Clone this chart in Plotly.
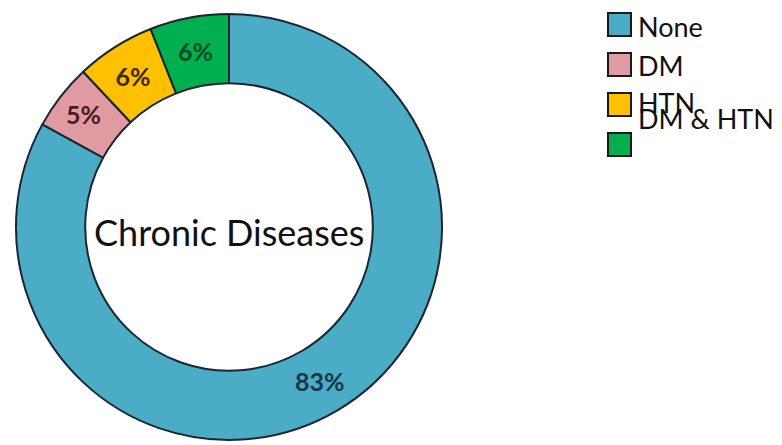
import plotly.graph_objects as go

# Chronic disease breakdown (percent of respondents)
labels = ["None", "DM", "HTN", "DM & HTN"]
values = [83, 5, 6, 6]

colors = ["#4BACC6", "#E09BA2", "#FFC000", "#00B050"]
text_colors = ["#17364A", "#4A1A22", "#3D2A05", "#0A4A25"]
edge = "#1B2631"

W, H = 782, 445
cx, cy, r_out = 229, 227, 213

fig = go.Figure()
fig.add_trace(go.Pie(
    labels=labels,
    values=values,
    hole=0.675,
    sort=False,
    direction="clockwise",
    rotation=0,
    marker=dict(colors=colors, line=dict(color=edge, width=2)),
    texttemplate="%{percent:.0%}",
    textposition="inside",
    insidetextorientation="horizontal",
    textfont=dict(family="Lato", size=25, color=text_colors, weight="bold"),
    showlegend=False,
    domain=dict(x=[(cx - r_out) / W, (cx + r_out) / W],
                y=[(H - cy - r_out) / H, (H - cy + r_out) / H]),
))

# Title in the middle of the ring
fig.add_annotation(
    x=cx / W, y=1 - 232 / H, xref="paper", yref="paper",
    text="Chronic Diseases", showarrow=False,
    font=dict(family="Lato", size=36, color="#111111"),
    xanchor="center", yanchor="middle",
)

# Hand-built legend: bordered colour squares with labels
sq = 23
sq_left = 608
sq_tops = [13, 53, 93, 133]
text_mid = [26, 65, 103, 118]
for lab, col, top, tm in zip(labels, colors, sq_tops, text_mid):
    fig.add_shape(
        type="rect", xref="paper", yref="paper",
        x0=sq_left / W, x1=(sq_left + sq) / W,
        y0=1 - (top + sq) / H, y1=1 - top / H,
        fillcolor=col, line=dict(color="#1A1A1A", width=2),
    )
    fig.add_annotation(
        x=(sq_left + sq + 5) / W, y=1 - tm / H, xref="paper", yref="paper",
        text=lab, showarrow=False, xanchor="left", yanchor="middle",
        font=dict(family="Lato", size=27, color="#111111"),
    )

fig.update_layout(
    width=W, height=H,
    margin=dict(l=0, r=0, t=0, b=0),
    paper_bgcolor="white", plot_bgcolor="white",
)

fig.write_html("out.html")
